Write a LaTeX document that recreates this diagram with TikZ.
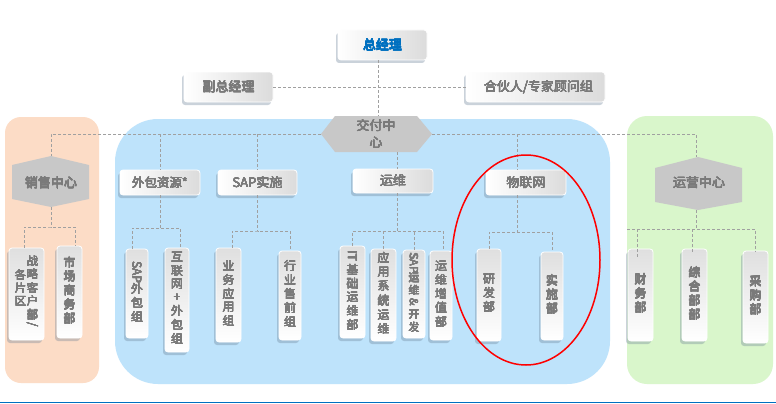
\documentclass[tikz,border=0pt]{standalone}
\usepackage{fontspec}
\usepackage{graphicx}
\usepackage[copies]{contour}
\setmainfont{Noto Sans CJK SC}
\contourlength{0.16pt}
\contournumber{8}
\usetikzlibrary{shadows}
\definecolor{txtgray}{HTML}{7A7A7A}
\definecolor{bossblue}{HTML}{0070C0}
\definecolor{dashgray}{HTML}{A0A0A0}
\definecolor{hexfill}{HTML}{C8C8C8}
\definecolor{orangebg}{HTML}{FCDCC6}
\definecolor{bluebg}{HTML}{BEE3FB}
\definecolor{greenbg}{HTML}{D9F6CB}
\definecolor{shadowc}{HTML}{6A7F95}
\newcommand{\rl}[1]{\rotatebox[origin=c]{-90}{#1}}
\newcommand{\bt}[1]{\contour{txtgray}{#1}}
\newcommand{\bb}[1]{\contour{bossblue}{#1}}
\newcommand{\vs}[1]{\contour{txtgray}{\begin{tabular}{@{}c@{}}#1\end{tabular}}}
\begin{document}
\begin{tikzpicture}[x=1pt,y=-1pt,
  conn/.style={draw=dashgray, line width=0.8pt, dash pattern=on 3pt off 2pt},
  boxbase/.style={rounded corners=3pt, draw=white, line width=0.8pt, inner sep=0pt,
    text=txtgray,
    drop shadow={shadow xshift=-2pt, shadow yshift=-3pt, opacity=0.35, fill=shadowc}},
  hbox/.style={boxbase, left color=white, right color=gray!28,
    font=\fontsize{13}{15}\selectfont},
  vbox/.style={boxbase, top color=gray!25, bottom color=white, align=center,
    font=\fontsize{12}{13}\selectfont},
  hextext/.style={inner sep=0pt, text=txtgray, align=center,
    font=\fontsize{13}{16.5}\selectfont}
]
\useasboundingbox (0,0) rectangle (776,404);
\fill[white] (0,0) rectangle (776,404);

% regions
\fill[orangebg, rounded corners=16pt] (5,117) rectangle (99,383);
\fill[bluebg, rounded corners=43pt] (115,119) rectangle (610,384);
\fill[greenbg, rounded corners=20pt] (627,116) rectangle (773,384);

% bottom rule
\draw[bossblue, line width=1pt] (0,402) -- (776,402);

% hexagon key points
\coordinate (jfT) at (378,116);
\coordinate (jfL) at (321,134);
\coordinate (jfR) at (432,134);
\coordinate (jfB) at (397,152);
\coordinate (xsT) at (51,156);
\coordinate (xsB) at (51,207);
\coordinate (yyT) at (696,157);
\coordinate (yyB) at (696,210);

% hexagons
\fill[hexfill] (jfL) -- (335,116) -- (417,116) -- (jfR) -- (417,152) -- (335,152) -- cycle;
\fill[hexfill] (xsT) -- (89,165) -- (89,199) -- (xsB) -- (12,199) -- (12,165) -- cycle;
\fill[hexfill] (698,157) -- (742,168) -- (742,202) -- (698,210) -- (655,202) -- (655,168) -- cycle;

\node[hextext] (jf) at (376,134) {\bt{交付中}\\\bt{心}};
\node[hextext] (xs) at (51,183) {\bt{销售中心}};
\node[hextext] (yy) at (699,183) {\bt{运营中心}};

% top boxes
\node[hbox, minimum width=89pt, minimum height=30pt, text=bossblue] (zjl) at (382.5,45) {\bb{总经理}};
\node[hbox, minimum width=89pt, minimum height=30pt] (fz) at (228.5,87) {\bt{副总经理}};
\node[hbox, minimum width=139pt, minimum height=30pt] (hh) at (535.5,87) {\hspace{6pt}\bt{合伙人/专家顾问组}};

% second level boxes
\node[hbox, minimum width=80pt, minimum height=25pt, font=\fontsize{12.5}{15}\selectfont] (wb) at (160,182.5) {\bt{外包资源*}};
\node[hbox, minimum width=79pt, minimum height=25pt] (sapss) at (257.5,182.5) {\bt{SAP实施}};
\node[hbox, minimum width=80pt, minimum height=24pt] (yw) at (393,181) {\bt{运维}};
\node[hbox, minimum width=80pt, minimum height=25pt] (wl) at (526,182.5) {\bt{物联网}};

% vertical boxes
\node[vbox, minimum width=35pt, minimum height=92pt, font=\fontsize{11.5}{12.4}\selectfont] (zl) at (26.5,294)
  {\bt{\raisebox{-14pt}{\begin{tabular}[t]{@{}c@{}}各\\片\\区\end{tabular}}\hspace{0.5pt}\begin{tabular}[t]{@{}c@{}}战\\略\\客\\户\\部\\[-3pt]\rl{/}\end{tabular}}};
\node[vbox, minimum width=25pt, minimum height=92pt] (sc) at (69.5,292) {\vs{市\\场\\商\\务\\部}};
\node[vbox, minimum width=22pt, minimum height=89pt] (sapwb) at (137,293.5) {\vs{\rl{SAP}\\外\\包\\组}};
\node[vbox, minimum width=24pt, minimum height=104pt] (hlw) at (177,300) {\vs{互\\联\\网\\+\\外\\包\\组}};
\node[vbox, minimum width=25pt, minimum height=94pt] (ywyy) at (228.5,295) {\vs{业\\务\\应\\用\\组}};
\node[vbox, minimum width=22pt, minimum height=89pt] (hysq) at (290,295.5) {\vs{行\\业\\售\\前\\组}};
\node[vbox, minimum width=25pt, minimum height=92pt] (it) at (352.5,292) {\vs{\rl{IT}\\基\\础\\运\\维\\部}};
\node[vbox, minimum width=25pt, minimum height=92pt, font=\fontsize{12}{14.2}\selectfont] (yyxt) at (383.5,295) {\vs{应\\用\\系\\统\\运\\维}};
\node[vbox, minimum width=22pt, minimum height=88pt, font=\fontsize{11}{11.8}\selectfont] (sapyw) at (414,294) {\vs{\rl{SAP}\\运\\维\\\rl{\&}\\开\\发}};
\node[vbox, minimum width=22pt, minimum height=89pt] (zz) at (441,295.5) {\vs{运\\维\\增\\值\\部}};
\node[vbox, minimum width=24pt, minimum height=92pt] (yf) at (489,295) {\vs{研\\发\\部}};
\node[vbox, minimum width=22pt, minimum height=88pt] (ssb) at (552,296) {\vs{实\\施\\部}};
\node[vbox, minimum width=25pt, minimum height=92pt] (cw) at (640.5,295) {\vs{财\\务\\部}};
\node[vbox, minimum width=25pt, minimum height=92pt] (zh) at (694.5,295) {\vs{综\\合\\部\\部}};
\node[vbox, minimum width=25pt, minimum height=92pt] (cg) at (755.5,297) {\vs{采\\购\\部}};

% junctions
\coordinate (xsJ) at (51,227);
\coordinate (wbJ) at (160,228);
\coordinate (ssJ) at (257.5,231);
\coordinate (ywJ) at (397,231);
\coordinate (wlJ) at (517,232);
\coordinate (yyJ) at (696,229);
\coordinate (yyL) at (627,229);
\coordinate (wlT) at (517,170);

% connectors
\draw[conn] (zjl.south -| jfT) -- (jfT);
\draw[conn] (fz.east) -- (hh.west);
\draw[conn] (jfL) -| (xsT);
\draw[conn] (jfR) -| (yyT);
\draw[conn] (wb.north |- jfL) -- (wb.north);
\draw[conn] (sapss.north |- jfL) -- (sapss.north);
\draw[conn] (wlT |- jfL) -- (wlT);
\draw[conn] (jfB) -- (jfB |- yw.north);

\draw[conn] (xsB) -- (xsJ);
\draw[conn] ([xshift=-2.5pt]zl.north) |- (xsJ) -| ([xshift=5.5pt]sc.north);

\draw[conn] (wb.south) -- (wbJ);
\draw[conn] ([xshift=-5pt]sapwb.north) |- (wbJ) -| ([xshift=3pt]hlw.north);

\draw[conn] (sapss.south) -- (ssJ);
\draw[conn] ([xshift=3.5pt]ywyy.north) |- (ssJ) -| (hysq.north);

\draw[conn] (jfB |- yw.south) -- (ywJ);
\draw[conn] (it.north) |- (ywJ) -| ([xshift=2pt]zz.north);
\draw[conn] (yyxt.north) -- (yyxt.north |- ywJ);
\draw[conn] (sapyw.north) -- (sapyw.north |- ywJ);

\draw[conn] (wlJ |- wl.south) -- (wlJ);
\draw[conn] (yf.north) |- (wlJ) -| (ssb.north);

\draw[conn] (yyB) -- (yyJ);
\draw[conn] (yyL) -| (cg.north);
\draw[conn] ([xshift=-3pt]cw.north |- yyL) -- ([xshift=-3pt,yshift=-8pt]cw.north);
\draw[conn] ([xshift=-2.5pt]zh.north |- yyL) -- ([xshift=-2.5pt,yshift=-5pt]zh.north);

% highlight ellipse
\draw[red, line width=1.5pt] (526,260) ellipse [x radius=74pt, y radius=105pt];
\end{tikzpicture}
\end{document}
